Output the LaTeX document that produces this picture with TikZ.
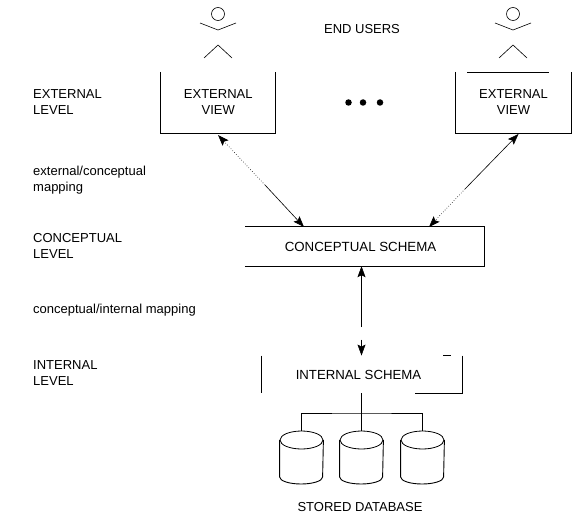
\documentclass[tikz,border=0pt]{standalone}
\usepackage{fontspec}
\setmainfont{Liberation Sans}
\usepackage{tikz}
\usetikzlibrary{arrows.meta, calc, shapes.geometric}
\definecolor{mInk}{HTML}{000000}

\begin{document}
\begin{tikzpicture}[
  x=1pt, y=-1pt,
  txt/.style={font=\fontsize{13}{16}\selectfont\color{mInk}, align=center, inner sep=0pt},
  lab/.style={txt, align=left, anchor=west},
  level/.style={draw=none, txt, minimum width=#1, inner sep=0pt},
  edge/.style={draw=mInk, line width=0.9pt},
  thinedge/.style={draw=mInk, line width=0.6pt},
  arr/.style={-{Stealth[length=11pt, width=8pt, inset=2pt]}, draw=mInk, line width=0.6pt},
  head/.style={circle, draw=mInk, line width=0.6pt, minimum size=13pt, inner sep=0pt},
  disk/.style={ellipse, draw=mInk, line width=0.8pt, minimum width=43pt, minimum height=18pt, inner sep=0pt},
  dot/.style={circle, fill=mInk, minimum size=6.5pt, inner sep=0pt}]
  \useasboundingbox (0,0) rectangle (583,532);
  % left column
  \node[lab] (l1) at (33,102) {EXTERNAL\\LEVEL};
  \node[lab] (l2) at (33,180) {external/conceptual\\mapping};
  \node[lab] (l3) at (33,246) {CONCEPTUAL\\LEVEL};
  \node[lab] (l4) at (33,310) {conceptual/internal mapping};
  \node[lab] (l5) at (33,373) {INTERNAL\\LEVEL};
  % users
  \node[txt] (users) at (362,29) {END USERS};
  \foreach \n/\x in {u1/218, u2/513} {
    \node[head] (\n) at (\x,14) {};
    \draw[thinedge] ($(\n)+(-18,9)$) -- ($(\n)+(0,16)$) -- ($(\n)+(18,9)$);
    \draw[thinedge] ($(\n)+(-14,44)$) -- ($(\n)+(0,31)$) -- ($(\n)+(14,44)$);
  }
  % schemas
  \node[level=114.5, minimum height=61] (v1) at (218.25,102.5) {EXTERNAL\\VIEW};
  \node[level=115, minimum height=61] (v2) at (513.5,102.5) {EXTERNAL\\VIEW};
  \node[level=239.5, minimum height=39] (cs) at (364.75,246.5) {\mbox{\fontsize{13.3}{16}\selectfont CONCEPTUAL SCHEMA\hspace{8.5pt}}};
  \node[level=200.5, minimum height=37.5] (is) at (361.75,374.5) {\mbox{\fontsize{13.2}{16}\selectfont INTERNAL SCHEMA\hspace{6.5pt}}};
  \node[txt] (store) at (360,507.5) {STORED DATABASE};
  \foreach \n/\x in {d1/348.5, d2/363, d3/380} \node[dot] (\n) at (\x,102.5) {};
  % open box edges
  \draw[edge] (v1.north west) |- (v1.south east) -- (v1.north east);
  \draw[edge] (v2.north west) |- (v2.south east) -- (v2.north east);
  \draw[edge] (467,72) -- (549,72);
  \draw[edge] (cs.south west) -- (cs.south east) -- (cs.north east) -- (cs.north west);
  \draw[edge] (is.north west) -- (is.south west);
  \draw[edge] (is.north east) |- (415,393);
  \draw[edge] (443,355) -- (451,355);
  % disks
  \foreach \n/\x in {db1/301.5, db2/361.5, db3/422.5} {
    \node[disk] (\n) at (\x,440) {};
    \draw[edge] (\n.west) -- ++(0,37) arc[start angle=180, end angle=0, x radius=21.5, y radius=7] -- (\n.east);
  }
  \coordinate (bus) at (361.5,413);
  \draw[edge] (is.south -| bus) -- (db2.north);
  \draw[edge] (db1.north) |- (bus) -| (db3.north);
  % arrows
  \coordinate (a1) at (218,135);
  \coordinate (a2) at (304,227);
  \coordinate (a3) at (265,185);
  \coordinate (b1) at (518.5,134);
  \coordinate (b2) at (429,227);
  \coordinate (b3) at (465,189);
  \coordinate (c1) at (361.5,327);
  \coordinate (c2) at (361.5,339.5);
  \draw[arr, dotted] (a3) -- (a1);
  \draw[arr] (a3) -- (a2);
  \draw[arr] (b3) -- (b1);
  \draw[arr, dotted] (b3) -- (b2);
  \draw[arr] (c1) -- (c1 |- cs.south);
  \draw[arr] (c2) -- (c2 |- is.north);
\end{tikzpicture}
\end{document}
